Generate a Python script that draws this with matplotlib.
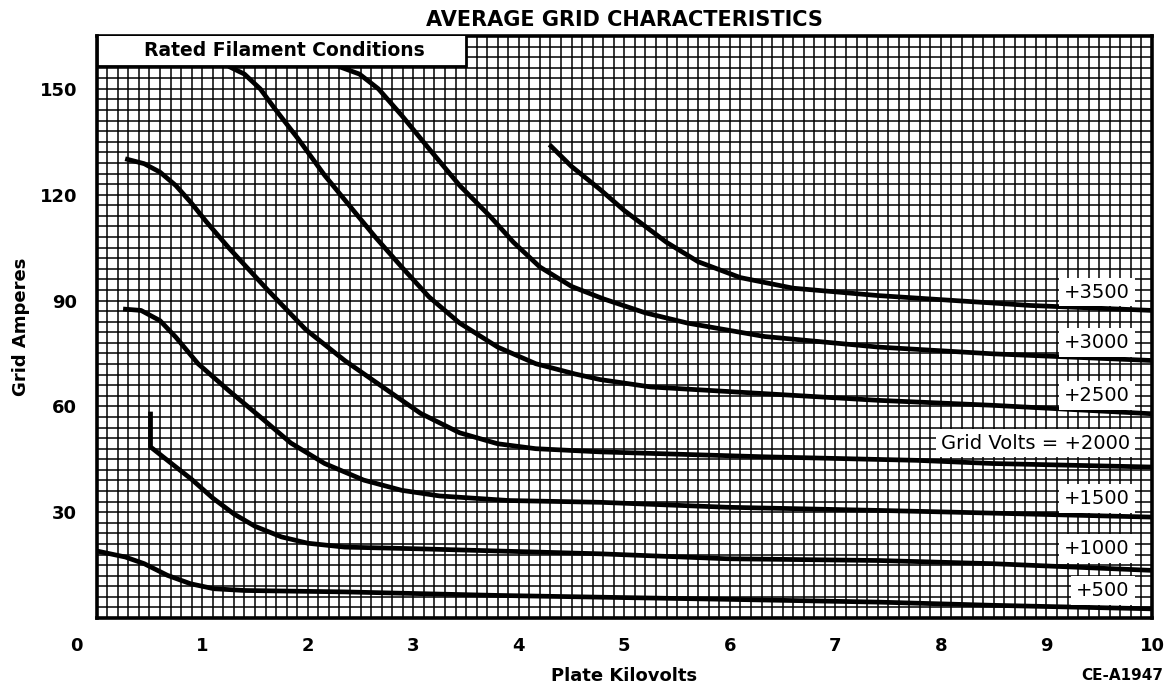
import numpy as np
import matplotlib
matplotlib.use("Agg")
import matplotlib.pyplot as plt
from matplotlib.ticker import MultipleLocator

# ---------------- data ----------------
x_500 = [0.0, 0.27, 0.45, 0.67, 0.89, 1.11, 1.40, 2.35, 3.80, 4.77, 5.97, 7.41, 8.49, 10.0]
y_500 = [19.0, 17.3, 15.4, 12.1, 9.7, 8.3, 7.8, 7.4, 6.4, 5.9, 5.3, 4.5, 3.6, 2.6]

x_1000 = [0.51, 0.51, 0.70, 0.90, 1.10, 1.30, 1.50, 1.75, 2.00, 2.35, 3.07, 4.77, 5.97, 7.41, 8.49, 10.0]
y_1000 = [58.5, 48.5, 44.0, 39.3, 34.0, 29.5, 26.0, 23.0, 21.2, 20.1, 19.6, 18.2, 16.8, 16.3, 15.4, 13.5]

x_1500 = [0.25, 0.42, 0.60, 0.75, 0.96, 1.25, 1.55, 1.84, 2.16, 2.53, 2.89, 3.25, 3.91, 4.77, 5.97, 7.41, 8.13, 10.0]
y_1500 = [87.6, 87.2, 84.3, 79.6, 72.1, 64.5, 57.0, 49.6, 43.8, 39.1, 36.2, 34.6, 33.3, 32.8, 31.4, 30.5, 30.0, 28.6]

x_2000 = [0.27, 0.45, 0.60, 0.75, 0.89, 1.04, 1.25, 1.62, 1.98, 2.35, 2.71, 3.07, 3.44, 3.80, 4.16, 4.77, 6.33, 7.77, 8.49, 10.0]
y_2000 = [130.2, 128.8, 126.4, 122.6, 117.9, 112.3, 105.0, 93.0, 81.8, 73.0, 65.5, 58.0, 52.5, 49.4, 48.0, 47.1, 45.7, 44.7, 43.8, 42.8]

x_2500 = [1.25, 1.40, 1.55, 1.69, 1.91, 2.16, 2.42, 2.64, 2.89, 3.15, 3.44, 3.80, 4.16, 4.53, 4.77, 5.25, 6.33, 7.41, 8.49, 10.0]
y_2500 = [156.4, 154.2, 150.0, 144.3, 135.8, 125.5, 116.0, 108.0, 99.5, 91.0, 83.6, 76.8, 72.1, 69.2, 67.6, 65.5, 63.6, 61.7, 60.3, 57.9]

x_3000 = [2.29, 2.49, 2.67, 2.89, 3.15, 3.44, 3.73, 3.95, 4.20, 4.50, 4.80, 5.20, 5.60, 6.33, 7.41, 8.49, 10.0]
y_3000 = [156.4, 154.2, 150.0, 142.5, 133.0, 122.6, 113.8, 106.5, 99.5, 94.0, 90.5, 86.5, 83.6, 79.8, 76.8, 74.9, 73.0]

x_3500 = [4.29, 4.50, 4.77, 5.00, 5.40, 5.70, 6.10, 6.60, 7.41, 8.13, 8.85, 10.0]
y_3500 = [134.2, 128.0, 121.5, 115.5, 106.5, 101.0, 96.5, 93.5, 91.4, 90.0, 88.6, 87.2]

curve_labels = ["+500", "+1000", "+1500", "Grid Volts = +2000", "+2500", "+3000", "+3500"]
label_y = [7.8, 19.7, 33.8, 49.6, 63.0, 78.2, 92.4]

x_tick_values = [1, 2, 3, 4, 5, 6, 7, 8, 9, 10]
y_tick_values = [30, 60, 90, 120, 150]

title = "AVERAGE GRID CHARACTERISTICS"
xlabel = "Plate Kilovolts"
ylabel = "Grid Amperes"
note = "Rated Filament Conditions"
code = "CE-A1947"

# ---------------- figure ----------------
W, H = 1167, 683
fig = plt.figure(figsize=(W / 100, H / 100), dpi=100)
ax = fig.add_axes([96.7 / W, 1 - 618 / H, (1152 - 96.7) / W, (618 - 36) / H])
ax.set_xlim(0, 10)
ax.set_ylim(0, 165)

ax.xaxis.set_minor_locator(MultipleLocator(0.1))
ax.yaxis.set_minor_locator(MultipleLocator(3))
ax.set_xticks(x_tick_values)
ax.set_yticks(y_tick_values)
ax.grid(which="both", color="black", linewidth=1.1)
ax.set_axisbelow(True)
ax.tick_params(which="both", length=0)
ax.tick_params(axis="x", pad=14, labelsize=13)
ax.tick_params(axis="y", pad=14, labelsize=13)
for lbl in ax.get_xticklabels() + ax.get_yticklabels():
    lbl.set_fontweight("bold")
for sp in ax.spines.values():
    sp.set_linewidth(2.6)

# x label "0" sits left of the frame in the reference
ax.text(-0.19, -0.033, "0", transform=ax.get_xaxis_transform(), ha="center", va="top",
        fontsize=13, fontweight="bold")

series = [(x_500, y_500), (x_1000, y_1000), (x_1500, y_1500), (x_2000, y_2000),
          (x_2500, y_2500), (x_3000, y_3000), (x_3500, y_3500)]
for xs, ys in series:
    ax.plot(xs, ys, color="black", linewidth=3.4, solid_capstyle="butt",
            solid_joinstyle="round", zorder=3)

for txt, yv in zip(curve_labels, label_y):
    ax.text(9.79, yv, txt, ha="right", va="center", fontsize=14, zorder=4,
            bbox=dict(facecolor="white", edgecolor="none", boxstyle="square,pad=0.25"))

ax.text(1.78, 160.8, note, ha="center", va="center", fontsize=13.5, fontweight="semibold",
        zorder=4)
ax.add_patch(plt.Rectangle((0, 156.6), 3.5, 10, facecolor="white", edgecolor="black",
                           linewidth=2.0, zorder=3.5, clip_on=True))

ax.set_title(title, fontsize=15, fontweight="bold", pad=7)
ax.set_xlabel(xlabel, fontsize=13, fontweight="bold", labelpad=8)
ax.set_ylabel(ylabel, fontsize=13, fontweight="bold", labelpad=7)
fig.text(1163 / W, 1 - 675 / H, code, ha="right", va="center", fontsize=11, fontweight="bold")

fig.savefig("out.png", dpi=100)
